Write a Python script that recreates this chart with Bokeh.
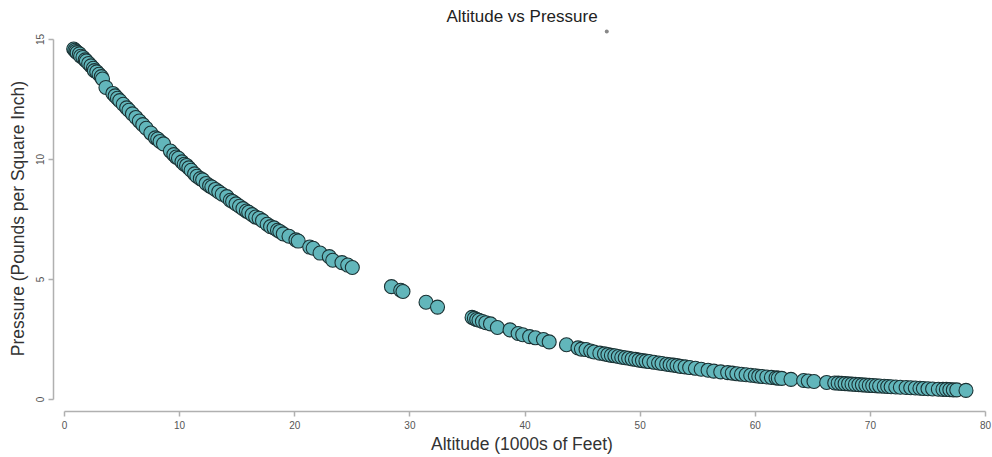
from bokeh.plotting import figure
from bokeh.models import Range1d, FixedTicker, ColumnDataSource
from bokeh.embed import file_html
from bokeh.resources import INLINE

# Altitude (1000s of feet) and pressure (psi)
altitude = [
    0.8, 0.9, 1.0, 1.1, 1.3, 1.4, 1.6, 1.8, 1.9, 2.1, 2.3, 2.5, 2.6, 2.8, 3.0, 3.2, 3.3,
    3.6, 4.2, 4.4, 4.6, 4.8, 5.1, 5.4, 5.6, 5.9, 6.2, 6.5, 6.8, 7.1, 7.5, 7.9, 8.1, 8.3,
    8.6, 9.2, 9.5, 9.7, 9.9, 10.2, 10.4, 10.6, 10.8, 11.0, 11.3, 11.5, 11.8, 12.0, 12.3,
    12.6, 12.8, 13.1, 13.4, 13.7, 14.1, 14.4, 14.6, 14.9, 15.2, 15.5, 15.8, 16.0, 16.3,
    16.6, 16.9, 17.2, 17.6, 17.9, 18.2, 18.5, 18.7, 19.0, 19.5, 20.1, 20.3, 21.3, 21.6,
    22.2, 23.0, 23.3, 24.1, 24.6, 25.0,
    28.4, 29.2, 29.4, 31.4, 32.4,
    35.4, 35.6, 35.8, 36.0, 36.3, 36.6, 37.0, 37.6, 38.7, 39.4, 39.8, 40.4, 40.9, 41.6,
    42.1, 43.6, 44.6, 44.9, 45.3, 45.7, 46.0, 46.5, 46.9, 47.2, 47.5, 47.8, 48.1, 48.4,
    48.7, 49.0, 49.3, 49.6, 49.9, 50.2, 50.5, 50.8, 51.2, 51.6, 51.9, 52.3, 52.6, 52.9,
    53.2, 53.5, 53.9, 54.3, 54.8, 55.3, 55.9, 56.4, 57.0, 57.6, 58.0, 58.4, 58.8, 59.2,
    59.6, 60.0, 60.3, 60.6, 61.0, 61.4, 61.8, 62.0, 62.3, 63.1, 64.2, 64.6, 65.1, 66.2,
    66.9, 67.2, 67.5, 67.8, 68.1, 68.4, 68.7, 69.0, 69.3, 69.6, 69.9, 70.2, 70.5, 70.8,
    71.2, 71.5, 71.8, 72.2, 72.6, 73.1, 73.5, 73.9, 74.3, 74.6, 75.0, 75.4, 75.9, 76.3,
    76.6, 76.9, 77.2, 77.5, 78.3,
]
pressure = [
    14.6, 14.55, 14.5, 14.45, 14.4, 14.3, 14.25, 14.15, 14.1, 14.0, 13.9, 13.8, 13.7, 13.65,
    13.55, 13.45, 13.35,
    13.0, 12.75, 12.65, 12.55, 12.45, 12.3, 12.15, 12.05, 11.9, 11.75, 11.6, 11.45, 11.3,
    11.1, 10.9, 10.85, 10.75,
    10.65, 10.35, 10.2, 10.1, 10.05, 9.9, 9.8, 9.75, 9.65, 9.55, 9.4, 9.3, 9.2, 9.15, 9.0,
    8.9, 8.85, 8.75, 8.65, 8.55, 8.45, 8.3, 8.25, 8.15, 8.05, 7.95, 7.85, 7.8, 7.7,
    7.6, 7.55, 7.45, 7.3, 7.2, 7.15, 7.05, 7.0, 6.9, 6.8, 6.65, 6.6, 6.35, 6.3,
    6.1, 5.95, 5.8, 5.7, 5.6, 5.5,
    4.7, 4.55, 4.5, 4.05, 3.85,
    3.42, 3.38, 3.33, 3.3, 3.25, 3.2, 3.15, 3.0, 2.9, 2.75, 2.7, 2.62, 2.57, 2.5,
    2.4, 2.28, 2.15, 2.1, 2.08, 2.02, 1.98, 1.93, 1.9, 1.87, 1.84, 1.82, 1.79, 1.76,
    1.74, 1.72, 1.69, 1.67, 1.64, 1.62, 1.6, 1.58, 1.55, 1.52, 1.5, 1.47, 1.45, 1.43,
    1.41, 1.38, 1.36, 1.33, 1.3, 1.26, 1.22, 1.18, 1.15, 1.12, 1.1, 1.07, 1.05, 1.03,
    1.01, 0.99, 0.97, 0.96, 0.94, 0.92, 0.9, 0.89, 0.88, 0.84, 0.79, 0.77, 0.75, 0.71,
    0.69, 0.68, 0.67, 0.66, 0.65, 0.64, 0.63, 0.62, 0.61, 0.6, 0.59, 0.58, 0.57, 0.56,
    0.55, 0.54, 0.53, 0.52, 0.51, 0.5, 0.49, 0.48, 0.47, 0.46, 0.45, 0.44, 0.43, 0.42,
    0.42, 0.41, 0.4, 0.4, 0.38,
]

# small stray dot next to the title
stray_x = [47.1]
stray_y = [15.33]

x_ticks = [0, 10, 20, 30, 40, 50, 60, 70, 80]
y_ticks = [0, 5, 10, 15]

FONT = "Liberation Sans"

p = figure(width=992, height=457, output_backend="svg", toolbar_location=None,
           x_range=Range1d(-0.955, 80.43), y_range=Range1d(-0.5, 15.58),
           min_border_left=53, min_border_right=2, min_border_top=25,
           min_border_bottom=46, title="Altitude vs Pressure")

p.title.align = "center"
p.title.text_font = FONT
p.title.text_font_size = "17px"
p.title.text_font_style = "normal"
p.title.text_color = "#222222"
p.title.standoff = 0

p.outline_line_color = None
p.xgrid.grid_line_color = None
p.ygrid.grid_line_color = None

src = ColumnDataSource(dict(x=altitude, y=pressure))
p.scatter("x", "y", source=src, size=14, fill_color="#62b6bb",
          line_color="#1b3234", line_width=1.1)
p.scatter(stray_x, stray_y, size=4, fill_color="#888888", line_color=None)

for ax, ticks, bounds in ((p.xaxis[0], x_ticks, (0, 80)), (p.yaxis[0], y_ticks, (0, 15))):
    ax.ticker = FixedTicker(ticks=ticks)
    ax.bounds = bounds
    ax.axis_line_color = "#b0b0b0"
    ax.axis_line_width = 1.5
    ax.major_tick_line_color = "#b0b0b0"
    ax.major_tick_line_width = 1.5
    ax.major_tick_out = 5
    ax.major_tick_in = 0
    ax.minor_tick_line_color = None
    ax.major_label_text_font = FONT
    ax.major_label_text_font_size = "10px"
    ax.major_label_text_color = "#555555"
    ax.axis_label_text_font = FONT
    ax.axis_label_text_font_size = "17.5px"
    ax.axis_label_text_font_style = "normal"
    ax.axis_label_text_color = "#333333"

p.xaxis.axis_label = "Altitude (1000s of Feet)"
p.xaxis.major_label_standoff = 4
p.xaxis.axis_label_standoff = 2
p.yaxis.axis_label = "Pressure (Pounds per Square Inch)"
p.yaxis.major_label_orientation = "vertical"
p.yaxis.major_label_standoff = 4
p.yaxis.axis_label_standoff = 6

open("out.html", "w").write(file_html(p, INLINE))
